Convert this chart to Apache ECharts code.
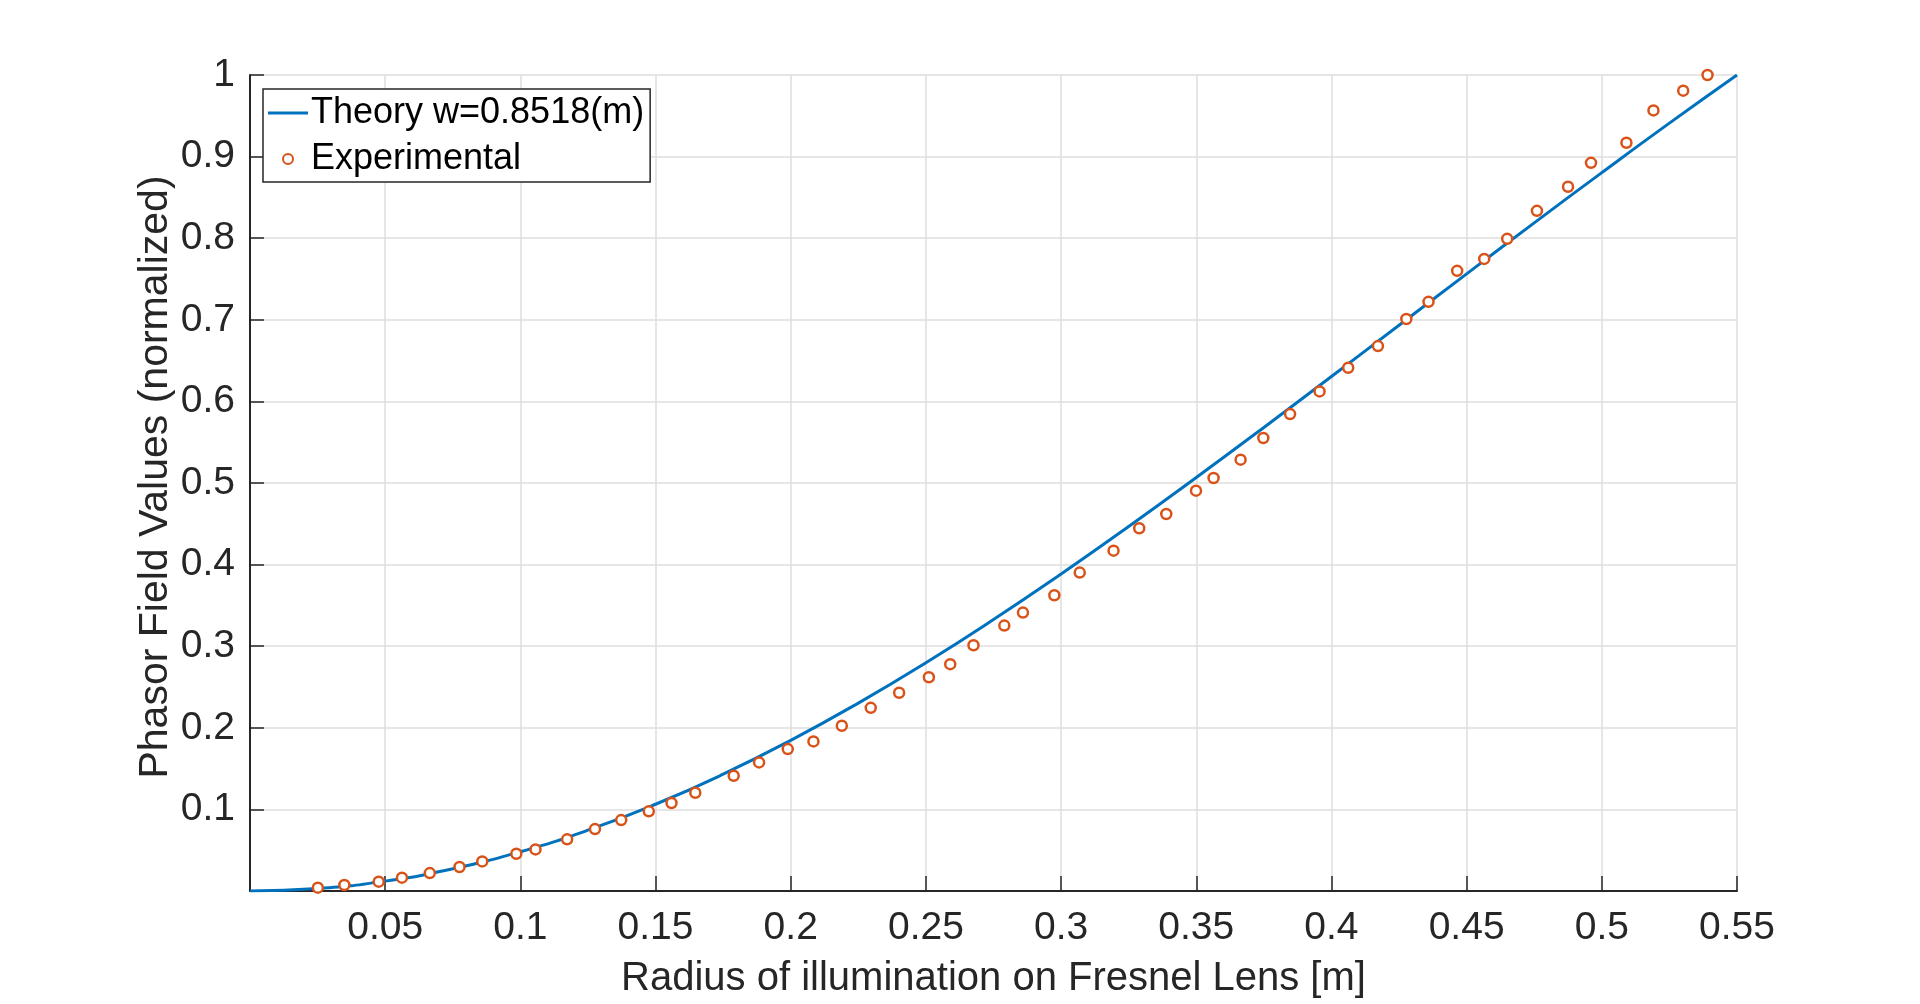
<!DOCTYPE html>
<html>
	<head>
		<meta charset="UTF-8">
		<title>Phasor Field Values</title>
		<script src="https://cdn.jsdelivr.net/npm/echarts@6/dist/echarts.min.js"></script>
		<style>
			html, body { margin: 0; padding: 0; background: #fff; }
			#main { width: 1920px; height: 1004px; }
		</style>
	</head>
	<body>
		<div id="main"></div>
	</body>
	<script type="text/javascript">
		// theory curve, every 0.025 m
		var theoryR = [0, 0.025, 0.05, 0.075, 0.1, 0.125, 0.15, 0.175, 0.2, 0.225, 0.25, 0.275,
			0.3, 0.325, 0.35, 0.375, 0.4, 0.425, 0.45, 0.475, 0.5, 0.525, 0.55];
		var theoryV = [0, 0.0030, 0.0121, 0.0272, 0.0481, 0.0745, 0.1063, 0.1431, 0.1846, 0.2303, 0.2798, 0.3327,
			0.3885, 0.4467, 0.5067, 0.5681, 0.6306, 0.6934, 0.7563, 0.8188, 0.8804, 0.9410, 1.0];

		// measured points
		var expR = [0.0251, 0.0349, 0.0476, 0.0562, 0.0665, 0.0775, 0.0859, 0.0985, 0.1056, 0.1173,
			0.1276, 0.1373, 0.1475, 0.1559, 0.1647, 0.1789, 0.1883, 0.1989, 0.2084, 0.2189,
			0.2296, 0.2401, 0.2511, 0.259, 0.2676, 0.279, 0.2859, 0.2975, 0.3069, 0.3194,
			0.3289, 0.3389, 0.3499, 0.3564, 0.3664, 0.3748, 0.3847, 0.3956, 0.4062, 0.4172,
			0.4277, 0.4359, 0.4465, 0.4565, 0.465, 0.476, 0.4875, 0.496, 0.5091, 0.5191,
			0.5301, 0.5391];
		var expV = [0.0041, 0.0073, 0.0114, 0.0163, 0.022, 0.0294, 0.0363, 0.0457, 0.051, 0.0633,
			0.0759, 0.0869, 0.0976, 0.1078, 0.1204, 0.1412, 0.1576, 0.1739, 0.1833, 0.2025,
			0.2245, 0.2429, 0.262, 0.278, 0.3012, 0.3253, 0.3412, 0.3624, 0.3902, 0.4171,
			0.4445, 0.462, 0.4906, 0.5061, 0.5286, 0.5551, 0.5845, 0.6122, 0.6412, 0.6678,
			0.701, 0.722, 0.76, 0.7746, 0.7992, 0.8335, 0.863, 0.8924, 0.917, 0.9566,
			0.9808, 1.0];

		var xTicks = { min: 0, max: 0.55, step: 0.05 };
		var yTicks = { min: 0, max: 1, step: 0.1 };

		var theoryName = 'Theory w=0.8518(m)';
		var expName = 'Experimental';

		function pairs(a, b) {
			var out = [];
			for (var i = 0; i < a.length; i++) out.push([a[i], b[i]]);
			return out;
		}

		var FONT = "'Liberation Sans', Arial, Helvetica, sans-serif";
		var myChart = echarts.init(document.getElementById('main'));
		var option = {
			backgroundColor: '#fff',
			animation: false,
			textStyle: { fontFamily: FONT },
			grid: { left: 250, right: 183, top: 75, bottom: 112, containLabel: false },
			legend: {
				orient: 'vertical',
				left: 263,
				top: 89,
				padding: [4, 6, 3, 5],
				itemGap: 6,
				itemWidth: 40,
				itemHeight: 10,
				backgroundColor: '#fff',
				borderColor: '#262626',
				borderWidth: 1.5,
				borderRadius: 0,
				textStyle: { fontFamily: FONT, fontSize: 36, color: '#000', lineHeight: 40, padding: [0, 0, 0, -2] },
				data: [
					{ name: theoryName, icon: 'path://M0,0H40V3H0Z', itemStyle: { color: '#0072BD', borderWidth: 0 } },
					{ name: expName, icon: 'circle', itemStyle: { color: '#fff', borderColor: '#D95319', borderWidth: 2 } }
				]
			},
			xAxis: {
				type: 'value',
				min: xTicks.min,
				max: xTicks.max,
				interval: xTicks.step,
				name: 'Radius of illumination on Fresnel Lens [m]',
				nameLocation: 'middle',
				nameGap: 68,
				nameMoveOverlap: false,
				nameTextStyle: { fontFamily: FONT, fontSize: 40, color: '#262626' },
				axisLine: { show: true, onZero: false, lineStyle: { color: '#262626', width: 2 } },
				axisTick: { show: true, inside: true, length: 15, lineStyle: { color: '#262626', width: 1.5 } },
				axisLabel: {
					fontFamily: FONT, fontSize: 39, color: '#262626', margin: 18,
					formatter: function (v) { return v === 0 ? '' : String(+v.toFixed(2)); }
				},
				splitLine: { show: true, lineStyle: { color: '#dedede', width: 1.5 } }
			},
			yAxis: {
				type: 'value',
				min: yTicks.min,
				max: yTicks.max,
				interval: yTicks.step,
				name: 'Phasor Field Values (normalized)',
				nameLocation: 'middle',
				nameGap: 74,
				nameMoveOverlap: false,
				nameTextStyle: { fontFamily: FONT, fontSize: 41, color: '#262626', padding: [0, 0, 0, 12] },
				axisLine: { show: true, onZero: false, lineStyle: { color: '#262626', width: 2 } },
				axisTick: { show: true, inside: true, length: 14, lineStyle: { color: '#262626', width: 1.5 } },
				axisLabel: {
					fontFamily: FONT, fontSize: 39, color: '#262626', margin: 15,
					formatter: function (v) { return v === 0 ? '' : String(+v.toFixed(1)); }
				},
				splitLine: { show: true, lineStyle: { color: '#dedede', width: 1.5 } }
			},
			series: [{
				name: theoryName,
				type: 'line',
				data: pairs(theoryR, theoryV),
				smooth: true,
				symbol: 'none',
				lineStyle: { color: '#0072BD', width: 3 },
				itemStyle: { color: '#0072BD' },
				z: 2
			}, {
				name: expName,
				type: 'scatter',
				data: pairs(expR, expV),
				symbol: 'circle',
				symbolSize: 10,
				clip: false,
				itemStyle: { color: '#fff', borderColor: '#D95319', borderWidth: 2.5, opacity: 1 },
				z: 3
			}]
		};
		myChart.setOption(option);
	</script>
</html>
